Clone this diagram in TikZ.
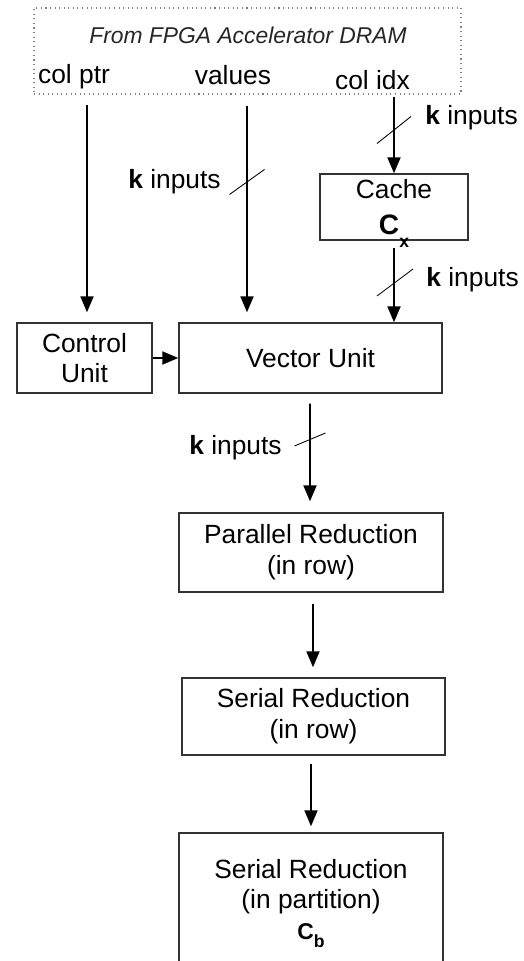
\documentclass[tikz,border=0pt]{standalone}
\usepackage{fontspec}
\setmainfont{Liberation Sans}
\usepackage{tikz}
\usetikzlibrary{positioning,arrows.meta,calc}
\definecolor{edgegray}{HTML}{333333}
\newcommand{\unitfont}{\fontsize{15}{17.5}\selectfont}
\newcommand{\bigC}[3]{\textbf{\fontsize{#1}{18}\selectfont C\smash{\raisebox{#2}{\fontsize{10}{12}\selectfont #3}}}}

\begin{document}
\begin{tikzpicture}[
    unit/.style={
        draw=edgegray, line width=0.8pt, align=center,
        font=\unitfont, inner sep=0pt
    },
    arr/.style={-{Triangle[length=0.32cm, width=0.26cm]}, line width=1.1pt},
    tick/.style={line width=0.5pt},
    klabel/.style={font=\unitfont, inner sep=0pt}
]
    \useasboundingbox (0,0) rectangle (10.48,19.22);

    % memory side
    \node[draw=gray, dotted, line width=0.6pt, minimum width=8.54cm, minimum height=1.72cm] (dram) at (4.95,18.20) {};
    \node[font=\fontsize{13}{15}\selectfont\itshape, color=black!85] (dramtitle) at (4.96,18.52)
        {From FPGA Accelerator DRAM};
    \node[klabel] (colptr) at (1.48,17.68) {col ptr};
    \node[klabel] (values) at (4.66,17.72) {values};
    \node[klabel] (colidx) at (7.45,17.62) {col idx};

    \coordinate (ptrsrc) at (1.74,17.12);
    \coordinate (valsrc) at (4.94,17.10);
    \coordinate (idxsrc) at (7.88,17.28);

    % units
    \node[unit, minimum width=2.96cm, minimum height=1.32cm] (cache) at (7.88,15.08)
        {Cache\\[3pt]\bigC{16}{-0.26cm}{x}};
    \node[unit, minimum width=2.70cm, minimum height=1.40cm] (ctrl) at (1.69,12.06)
        {Control\\Unit};
    \node[unit, minimum width=5.26cm, minimum height=1.40cm] (vec) at (6.21,12.06)
        {Vector Unit};
    \node[unit, minimum width=5.28cm, minimum height=1.58cm] (par) at (6.22,8.17)
        {Parallel Reduction\\(in row)};
    \node[unit, minimum width=5.26cm, minimum height=1.54cm] (ser) at (6.27,4.89)
        {Serial Reduction\\(in row)};
    \node[unit, minimum width=5.28cm, minimum height=2.66cm] (part) at (6.22,1.23)
        {Serial Reduction\\(in partition)\\\bigC{13}{-0.16cm}{b}};

    % connections
    \draw[arr, shorten >=0.2cm] (ptrsrc) -- (ptrsrc |- ctrl.north);
    \draw[arr, shorten >=0.2cm] (valsrc) -- (valsrc |- vec.north);
    \draw[arr] (idxsrc) -- (cache.north);
    \draw[arr, shorten <=0.14cm] (cache.south) -- (cache.south |- vec.north);
    \draw[arr] (ctrl.east) -- (vec.west);
    \draw[arr, shorten <=0.2cm, shorten >=0.22cm] ($(vec.south)+(-0.01,0)$) -- ($(par.north)+(-0.02,0)$);
    \draw[arr, shorten <=0.22cm, shorten >=0.2cm] ($(par.south)+(0.04,0)$) -- ($(par.south |- ser.north)+(0.04,0)$);
    \draw[arr, shorten <=0.16cm, shorten >=0.12cm] (ser.south -| part.north) -- (part.north);

    % bus width marks
    \coordinate (valtick) at (4.94,15.58);
    \coordinate (idxtick) at (7.88,16.62);
    \coordinate (cvtick) at (7.90,13.57);
    \coordinate (vptick) at (6.20,10.43);
    \draw[tick] (valtick) +(-0.35,-0.25) -- +(0.35,0.25);
    \draw[tick] (idxtick) +(-0.34,-0.27) -- +(0.34,0.27);
    \draw[tick] (cvtick) +(-0.36,-0.27) -- +(0.36,0.27);
    \draw[tick] (vptick) +(-0.31,-0.13) -- +(0.31,0.13);

    \node[klabel, left=0.52cm of valtick] (kval) {\textbf{k} inputs};
    \node[klabel, right=0.62cm of idxtick, yshift=0.24cm] (kidx) {\textbf{k} inputs};
    \node[klabel, right=0.62cm of cvtick, yshift=0.05cm] (kcache) {\textbf{k} inputs};
    \node[klabel, left=0.56cm of vptick, yshift=-0.17cm] (kvec) {\textbf{k} inputs};
\end{tikzpicture}
\end{document}
